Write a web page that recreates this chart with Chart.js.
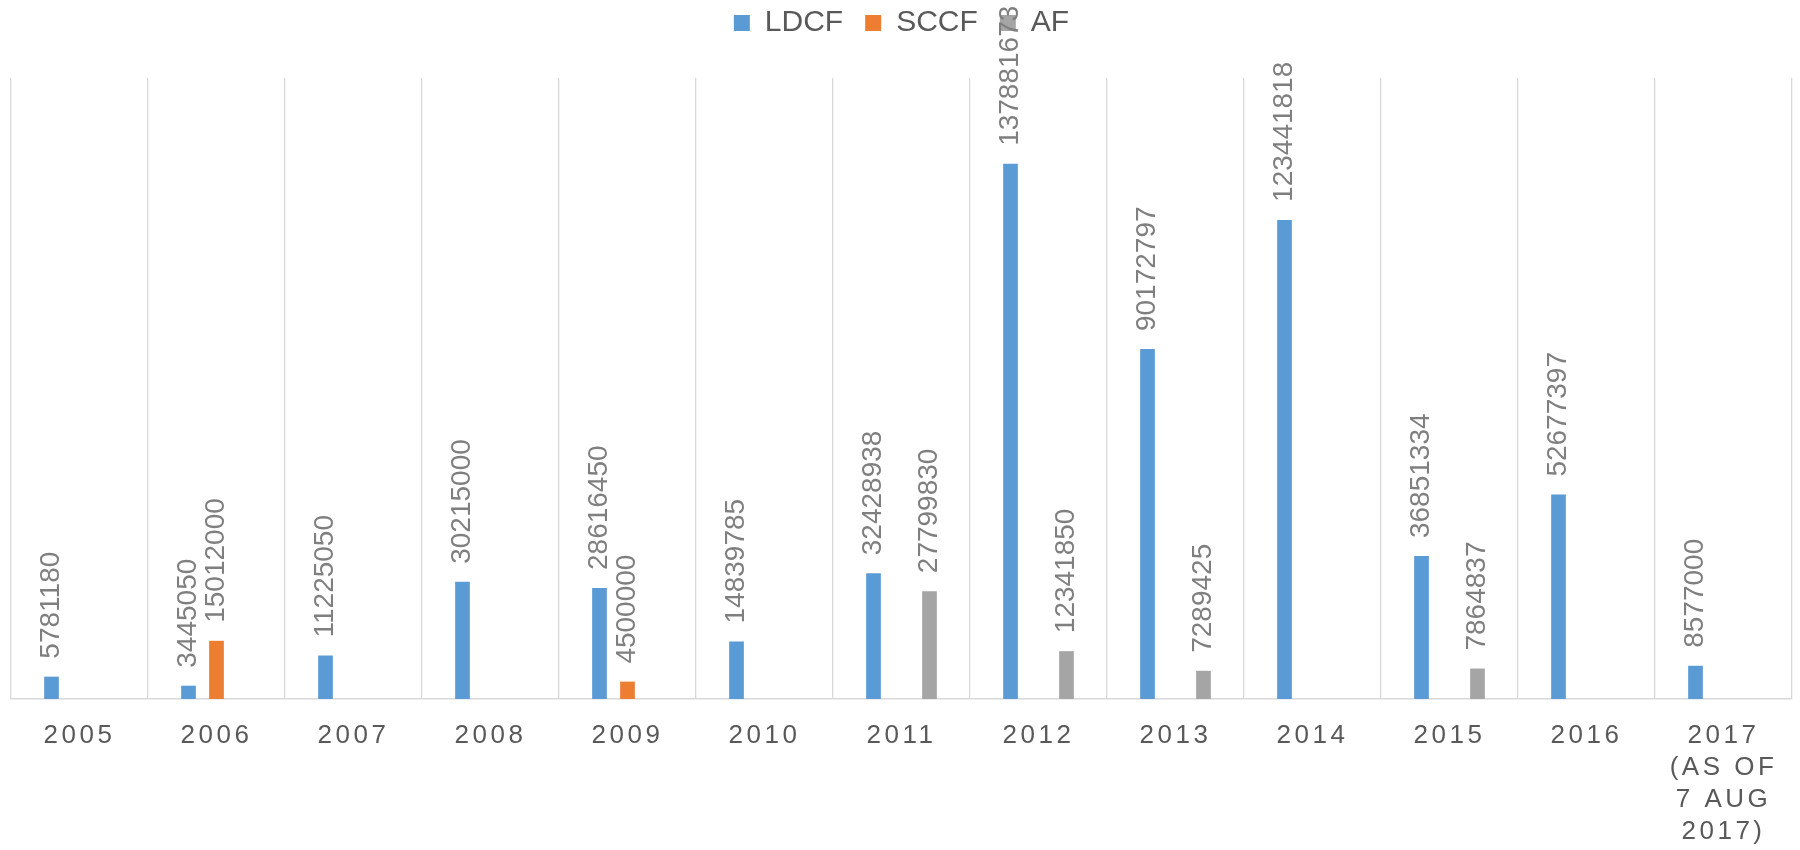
<!DOCTYPE html>
<html lang="en">
<head>
    <meta charset="UTF-8">
    <title>LDCF / SCCF / AF</title>
    <script src="https://cdn.jsdelivr.net/npm/chart.js"></script>
    <style>
        body {
            margin: 0;
            background: #ffffff;
        }
        .wrap {
            width: 1800px;
            height: 850px;
        }
    </style>
</head>
<body>
    <div class="wrap">
        <canvas id="fundChart"></canvas>
    </div>

    <script>
        // Values
        const years = ['2005', '2006', '2007', '2008', '2009', '2010', '2011', '2012',
                       '2013', '2014', '2015', '2016', ['2017', '(AS OF', '7 AUG', '2017)']];
        const ldcf = [5781180, 3445050, 11225050, 30215000, 28616450, 14839785, 32428938,
                      137881673, 90172797, 123441818, 36851334, 52677397, 8577000];
        const sccf = [null, 15012000, null, null, 4500000, null, null,
                      null, null, null, null, null, null];
        const af = [null, null, null, null, null, null, 27799830,
                    12341850, 7289425, null, 7864837, null, null];
        const yMax = 160000000;

        const FONT = '"Liberation Sans", Arial, sans-serif';

        // value labels, rotated, sitting above each bar
        const barLabels = {
            id: 'barLabels',
            beforeLayout(chart) {
                // extra room under the legend
                const lg = chart.legend;
                if (lg && !lg._patched) {
                    const fit = lg.fit;
                    lg.fit = function () {
                        fit.call(this);
                        this.height += 30;
                    };
                    lg._patched = true;
                }
                // x labels are letter-spaced in the original
                const xs = chart.scales.x;
                if (xs && !xs._patched) {
                    const draw = xs.drawLabels;
                    xs.drawLabels = function (area) {
                        const c = this.ctx;
                        c.save();
                        c.letterSpacing = '3.5px';
                        draw.call(this, area);
                        c.restore();
                    };
                    xs._patched = true;
                }
            },
            beforeDraw(chart) {
                const ctx = chart.ctx;
                ctx.save();
                ctx.fillStyle = '#ffffff';
                ctx.fillRect(0, 0, chart.width, chart.height);
                ctx.restore();
            },
            afterDatasetsDraw(chart) {
                const ctx = chart.ctx;
                ctx.save();
                ctx.font = '28px ' + FONT;
                ctx.fillStyle = '#7f7f7f';
                ctx.textAlign = 'left';
                ctx.textBaseline = 'middle';
                chart.data.datasets.forEach((ds, i) => {
                    const meta = chart.getDatasetMeta(i);
                    meta.data.forEach((bar, j) => {
                        const v = ds.data[j];
                        if (v === null || v === undefined) return;
                        ctx.save();
                        ctx.translate(bar.x, bar.y - 18);
                        ctx.rotate(-Math.PI / 2);
                        ctx.fillText(String(v), 0, 0);
                        ctx.restore();
                    });
                });
                ctx.restore();
            }
        };

        const ctx = document.getElementById('fundChart').getContext('2d');
        const fundChart = new Chart(ctx, {
            type: 'bar',
            data: {
                labels: years,
                datasets: [
                    { label: 'LDCF', data: ldcf, backgroundColor: '#5B9BD5' },
                    { label: 'SCCF', data: sccf, backgroundColor: '#ED7D31' },
                    { label: 'AF', data: af, backgroundColor: '#A5A5A5' }
                ]
            },
            options: {
                responsive: true,
                maintainAspectRatio: false,
                animation: false,
                categoryPercentage: 0.613,
                barPercentage: 0.525,
                layout: {
                    padding: { left: 11, right: 8, top: -14, bottom: -19 }
                },
                plugins: {
                    legend: {
                        position: 'top',
                        labels: {
                            boxWidth: 16,
                            boxHeight: 16,
                            padding: 22,
                            color: '#595959',
                            font: { family: FONT, size: 30 }
                        }
                    },
                    tooltip: { enabled: false }
                },
                scales: {
                    x: {
                        grid: {
                            color: '#D9D9D9',
                            lineWidth: 1.3,
                            drawTicks: false
                        },
                        border: { color: '#D9D9D9', width: 1.6 },
                        ticks: {
                            color: '#595959',
                            padding: 21,
                            maxRotation: 0,
                            autoSkip: false,
                            font: { family: FONT, size: 26, lineHeight: 1.23 }
                        }
                    },
                    y: {
                        display: false,
                        min: 0,
                        max: yMax
                    }
                }
            },
            plugins: [barLabels]
        });
    </script>
</body>
</html>
